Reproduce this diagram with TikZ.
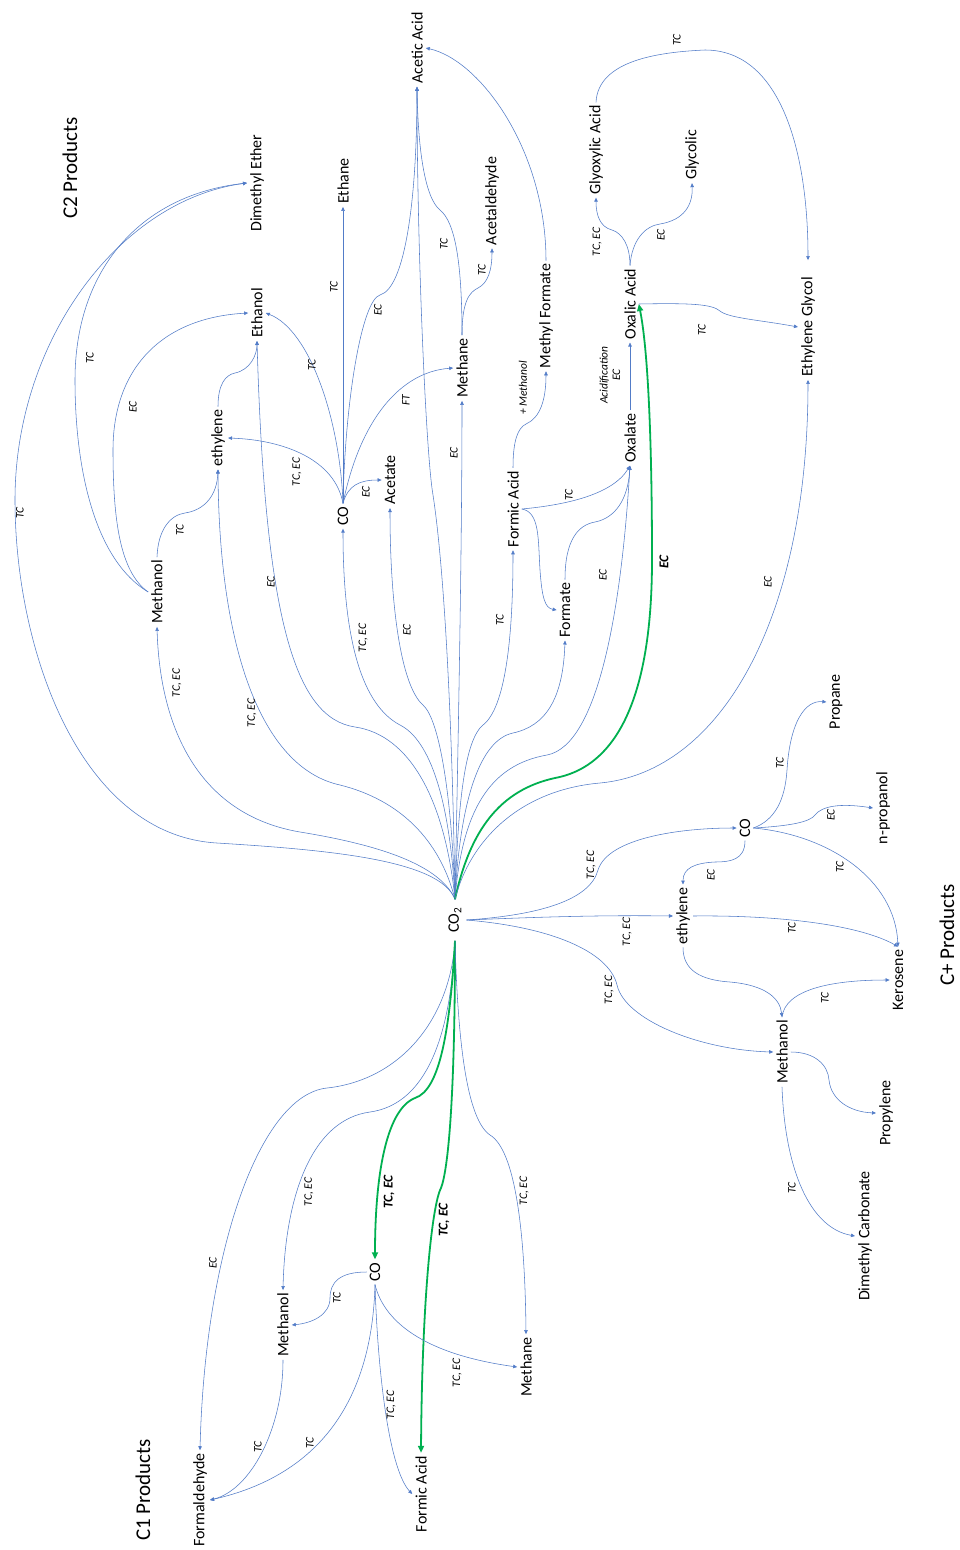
\documentclass[tikz,border=0pt]{standalone}
\usepackage{fontspec}
\setmainfont{Carlito}
\usetikzlibrary{arrows.meta}
\definecolor{edgeblue}{RGB}{82,124,200}
\definecolor{pathgreen}{RGB}{0,176,80}
\begin{document}
\begin{tikzpicture}[x=1pt,y=-1pt,
  prod/.style={rotate=90, font=\fontsize{16}{18}\selectfont, inner sep=3pt},
  ttl/.style={rotate=90, font=\fontsize{21}{24}\selectfont, inner sep=2pt},
  elab/.style={rotate=90, font=\fontsize{11.5}{12.5}\selectfont\itshape, inner sep=0pt, align=center},
  glab/.style={rotate=90, font=\fontsize{13.5}{15}\selectfont\bfseries\itshape, inner sep=0pt},
  conn/.style={draw=edgeblue, line width=0.55pt, -{Triangle[length=4pt,width=3.5pt]}},
  gpath/.style={draw=pathgreen, line width=1.8pt, -{Triangle[length=7pt,width=6pt]}},
]
\fill[white] (0,0) rectangle (959,1550);
\useasboundingbox (0,0) rectangle (959,1550);

% ---------- titles ----------
\node[ttl] (t2) at (70,168) {C2 Products};
\node[ttl] (t1) at (143,1490) {C1 Products};
\node[ttl] (t3) at (947,935) {C+ Products};

% ---------- nodes ----------
\node[prod, inner xsep=8pt, inner ysep=5pt] (co2) at (455,920) {CO\textsubscript{2}};
% C2
\node[prod] (dme) at (257,183) {Dimethyl Ether};
\node[prod] (ethane) at (343,181) {Ethane};
\node[prod] (acetic) at (417,48) {Acetic Acid};
\node[prod] (ethanol) at (257,313) {Ethanol};
\node[prod] (acetald) at (492,201) {Acetaldehyde};
\node[prod] (mf) at (546,316) {Methyl Formate};
\node[prod] (methane2) at (462,368) {Methane};
\node[prod] (eth2) at (218,438) {ethylene};
\node[prod] (coA) at (343,516) {CO};
\node[prod] (acetate) at (390,480) {Acetate};
\node[prod] (m2) at (157,592) {Methanol};
\node[prod] (fa2) at (513,509) {Formic Acid};
\node[prod] (formate) at (565,610) {Formate};
\node[prod] (oxalate) at (630,438) {Oxalate};
\node[prod] (oxalic) at (630,304) {Oxalic Acid};
\node[prod] (glyox) at (596,150) {Glyoxylic Acid};
\node[prod] (glycolic) at (692,155) {Glycolic};
\node[prod] (eg) at (808,327) {Ethylene Glycol};
% C+
\node[prod] (propane) at (836,702) {Propane};
\node[prod] (coB) at (745,828) {CO};
\node[prod] (nprop) at (883,808) {n-propanol};
\node[prod] (eth3) at (683,916) {ethylene};
\node[prod] (kero) at (898,980) {Kerosene};
\node[prod] (m3) at (782,1052) {Methanol};
\node[prod] (propylene) at (886,1113) {Propylene};
\node[prod] (dmc) at (865,1236) {Dimethyl Carbonate};
% C1
\node[prod] (coC) at (375,1272) {CO};
\node[prod] (m1) at (283,1325) {Methanol};
\node[prod] (methane1) at (526,1367) {Methane};
\node[prod] (formald) at (200,1500) {Formaldehyde};
\node[prod] (fa1) at (421,1494) {Formic Acid};

% ---------- C2 connectors from CO2 ----------
\draw[conn] (co2.east) .. controls (440,860) and (330,850) .. (217,843) .. controls (80,835) and (15,650) .. (15,500) .. controls (15,340) and (120,200) .. (dme.north);
\draw[conn] (co2.east) .. controls (440,865) and (380,845) .. (300,832) .. controls (200,815) and (160,730) .. (m2.west);
\draw[conn] (co2.east) .. controls (440,840) and (400,800) .. (340,785) .. controls (262,768) and (219,650) .. (eth2.west);
\draw[conn] (co2.east) .. controls (445,800) and (410,735) .. (355,727) .. controls (295,718) and (265,620) .. (ethanol.west);
\draw[conn] (co2.east) .. controls (450,800) and (430,740) .. (400,725) .. controls (362,705) and (343,640) .. (coA.west);
\draw[conn] (co2.east) .. controls (452,800) and (440,720) .. (423,705) .. controls (400,685) and (390,600) .. (acetate.west);
\draw[conn] (co2.east) .. controls (452,700) and (443,560) .. (433,495) .. controls (426,455) and (417,250) .. (acetic.west);
\draw[conn] (co2.east) .. controls (458,750) and (462,550) .. (methane2.west);
\draw[conn] (co2.east) .. controls (458,800) and (465,740) .. (483,725) .. controls (505,708) and (513,640) .. (fa2.west);
\draw[conn] (co2.east) .. controls (460,800) and (480,740) .. (513,733) .. controls (545,726) and (563,700) .. (formate.west);
\draw[conn] (co2.east) .. controls (462,810) and (490,765) .. (547,755) .. controls (600,745) and (622,600) .. (oxalate.west);
\draw[gpath] (co2.east) .. controls (470,830) and (500,790) .. (555,778) .. controls (625,765) and (652,680) .. (652,560) .. controls (652,440) and (648,350) .. (oxalic.south);
\draw[conn] (co2.east) .. controls (470,840) and (520,790) .. (600,783) .. controls (720,772) and (808,620) .. (eg.west);

% ---------- C2 secondary ----------
\draw[conn] (coA.east) .. controls (335,460) and (285,440) .. (eth2.south);
\draw[conn] (coA.east) .. controls (340,420) and (310,330) .. (ethanol.south);
\draw[conn] (coA.east) -- (ethane.west);
\draw[conn] (coA.east) .. controls (345,400) and (362,300) .. (380,295) .. controls (405,288) and (417,200) .. (acetic.west);
\draw[conn] (coA.east) .. controls (360,420) and (400,372) .. (methane2.north);
\draw[conn] (coA.east) .. controls (348,485) and (360,480) .. (acetate.north);
\draw[conn] (methane2.east) .. controls (462,300) and (470,292) .. (478,288) .. controls (488,283) and (492,270) .. (acetald.west);
\draw[conn] (methane2.east) .. controls (462,262) and (455,222) .. (440,210) .. controls (425,198) and (418,150) .. (acetic.west);
\draw[conn] (mf.east) .. controls (546,150) and (480,60) .. (acetic.south);
\draw[conn] (fa2.east) .. controls (513,440) and (518,428) .. (526,424) .. controls (540,418) and (546,400) .. (mf.west);
\draw[conn] (fa2.south) .. controls (540,512) and (538,540) .. (540,570) .. controls (542,598) and (545,608) .. (formate.north);
\draw[conn] (fa2.south) .. controls (565,505) and (612,495) .. (oxalate.west);
\draw[conn] (formate.east) .. controls (565,540) and (578,525) .. (595,522) .. controls (615,518) and (628,500) .. (oxalate.west);
\draw[conn] (oxalate.east) -- (oxalic.west);
\draw[conn] (oxalic.south) .. controls (690,303) and (712,304) .. (720,311) .. controls (728,318) and (760,320) .. (eg.north);
\draw[conn] (oxalic.east) .. controls (630,245) and (622,233) .. (612,230) .. controls (600,227) and (596,215) .. (glyox.west);
\draw[conn] (oxalic.east) .. controls (632,240) and (645,226) .. (660,224) .. controls (684,220) and (693,205) .. (glycolic.west);
\draw[conn] (glyox.east) .. controls (598,60) and (660,52) .. (705,50) .. controls (780,50) and (808,150) .. ([yshift=14pt]eg.east);
\draw[conn] (m2.north) .. controls (120,572) and (113,520) .. (113,450) .. controls (113,370) and (160,318) .. (ethanol.north);
\draw[conn] (m2.north) .. controls (95,560) and (75,470) .. (75,380) .. controls (75,270) and (140,195) .. (dme.north);
\draw[conn] (m2.east) .. controls (158,530) and (170,515) .. (185,513) .. controls (205,510) and (217,495) .. (eth2.west);
\draw[conn] (eth2.east) .. controls (218,385) and (225,375) .. (235,373) .. controls (250,370) and (257,355) .. (ethanol.west);

% ---------- C+ ----------
\draw[conn] (co2.south) .. controls (540,915) and (590,900) .. (598,870) .. controls (608,838) and (680,828) .. (coB.north);
\draw[conn] (co2.south) .. controls (540,917) and (600,915) .. (eth3.north);
\draw[conn] (co2.south) .. controls (560,928) and (610,955) .. (617,985) .. controls (625,1020) and (700,1050) .. (m3.north);
\draw[conn] (coB.south) .. controls (775,820) and (785,800) .. (787,770) .. controls (790,722) and (805,700) .. (propane.north);
\draw[conn] (coB.south) .. controls (790,826) and (810,822) .. (815,815) .. controls (822,806) and (840,803) .. (nprop.north);
\draw[conn] (coB.south) .. controls (830,835) and (895,880) .. (kero.east);
\draw[conn] (coB.west) .. controls (745,860) and (730,862) .. (715,862) .. controls (695,863) and (683,868) .. (eth3.east);
\draw[conn] (eth3.south) .. controls (780,915) and (860,925) .. (kero.east);
\draw[conn] (eth3.west) .. controls (683,970) and (700,980) .. (730,982) .. controls (765,985) and (780,998) .. (m3.east);
\draw[conn] (m3.east) .. controls (785,990) and (830,980) .. (kero.north);
\draw[conn] (m3.south) .. controls (815,1052) and (828,1065) .. (829,1080) .. controls (831,1100) and (850,1112) .. (propylene.north);
\draw[conn] (m3.west) .. controls (785,1170) and (810,1228) .. (dmc.north);

% ---------- C1 ----------
\draw[conn] (co2.west) .. controls (450,1020) and (400,1080) .. (327,1088) .. controls (260,1095) and (205,1250) .. (formald.east);
\draw[conn] (co2.west) .. controls (450,1050) and (420,1105) .. (370,1112) .. controls (310,1120) and (285,1200) .. (m1.east);
\draw[gpath] (co2.west) .. controls (450,1030) and (440,1090) .. (415,1098) .. controls (385,1110) and (375,1180) .. (coC.east);
\draw[gpath] (co2.west) .. controls (455,1100) and (448,1170) .. (441,1188) .. controls (432,1205) and (422,1300) .. (fa1.east);
\draw[conn] (co2.west) .. controls (458,1050) and (468,1120) .. (490,1135) .. controls (515,1150) and (525,1230) .. (methane1.east);
\draw[conn] (coC.north) .. controls (340,1272) and (330,1282) .. (330,1298) .. controls (330,1315) and (312,1323) .. (m1.south);
\draw[conn] (coC.west) .. controls (385,1325) and (430,1355) .. (methane1.north);
\draw[conn] (coC.west) .. controls (378,1380) and (390,1470) .. (fa1.north);
\draw[conn] (coC.west) .. controls (372,1400) and (320,1475) .. (formald.south);
\draw[conn] (m1.west) .. controls (283,1430) and (250,1490) .. (formald.south);

% ---------- edge labels ----------
% C2
\node[elab] (l01) at (20,513) {TC};
\node[elab] (l02) at (90,358) {TC};
\node[elab] (l03) at (133,407) {EC};
\node[elab] (l04) at (180,530) {TC};
\node[elab] (l05) at (177,683) {TC, EC};
\node[elab] (l06) at (252,713) {TC, EC};
\node[elab] (l07) at (271,582) {EC};
\node[elab] (l08) at (297,472) {TC, EC};
\node[elab] (l09) at (312,365) {TC};
\node[elab] (l10) at (334,287) {TC};
\node[elab] (l11) at (378,310) {EC};
\node[elab] (l12) at (406,400) {FT};
\node[elab] (l13) at (366,492) {EC};
\node[elab] (l14) at (363,638) {TC, EC};
\node[elab] (l15) at (407,630) {EC};
\node[elab] (l16) at (454,453) {EC};
\node[elab] (l17) at (444,244) {TC};
\node[elab] (l18) at (482,270) {TC};
\node[elab] (l19) at (523,388) {+ Methanol};
\node[elab] (l20) at (500,620) {TC};
\node[elab] (l21) at (569,495) {TC};
\node[elab] (l22) at (603,575) {EC};
\node[glab] (l23) at (664,562) {EC};
\node[elab] (l24) at (610,375) {Acidification\\EC};
\node[elab] (l25) at (702,330) {TC};
\node[elab] (l26) at (597,242) {TC, EC};
\node[elab] (l27) at (661,235) {EC};
\node[elab] (l28) at (677,40) {TC};
\node[elab] (l29) at (768,582) {EC};
% C+
\node[elab] (l30) at (591,865) {TC, EC};
\node[elab] (l31) at (627,932) {TC, EC};
\node[elab] (l32) at (609,990) {TC, EC};
\node[elab] (l33) at (780,763) {TC};
\node[elab] (l34) at (831,815) {EC};
\node[elab] (l35) at (840,867) {TC};
\node[elab] (l36) at (711,875) {EC};
\node[elab] (l37) at (792,928) {TC};
\node[elab] (l38) at (825,998) {TC};
\node[elab] (l39) at (792,1188) {TC};
% C1
\node[elab] (l40) at (213,1263) {EC};
\node[elab] (l41) at (309,1192) {TC, EC};
\node[glab] (l42) at (389,1192) {TC, EC};
\node[glab] (l43) at (444,1220) {TC, EC};
\node[elab] (l44) at (524,1191) {TC, EC};
\node[elab] (l45) at (337,1298) {TC};
\node[elab] (l46) at (457,1373) {TC, EC};
\node[elab] (l47) at (391,1405) {TC, EC};
\node[elab] (l48) at (310,1443) {TC};
\node[elab] (l49) at (258,1447) {TC};
\end{tikzpicture}
\end{document}
